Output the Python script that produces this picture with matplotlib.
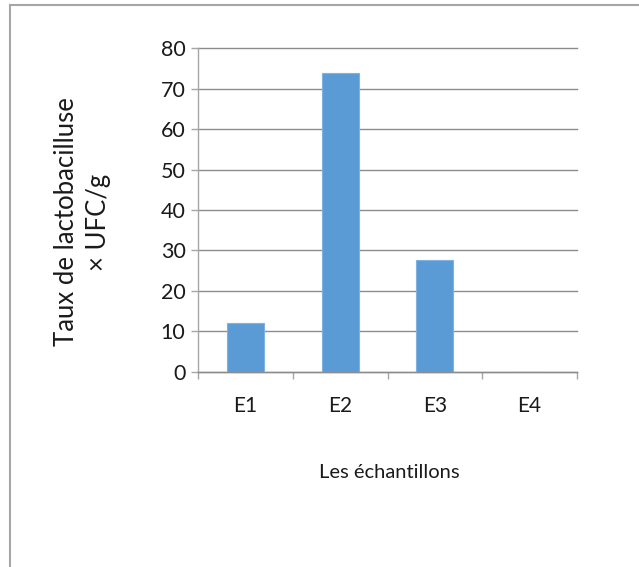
import matplotlib
matplotlib.use("Agg")
import matplotlib.pyplot as plt
from matplotlib.lines import Line2D

# chart data
categories = ["E1", "E2", "E3", "E4"]
values = [12, 74, 27.7, 0]
y_ticks = [0, 10, 20, 30, 40, 50, 60, 70, 80]

plt.rcParams['font.family'] = ['Lato', 'DejaVu Sans']

W, H = 639, 567
fig = plt.figure(figsize=(W / 100, H / 100), dpi=100)

# axes box in pixel coords (left, top, right, bottom)
l, t, r, b = 198, 48.5, 577, 371.5
ax = fig.add_axes([l / W, 1 - b / H, (r - l) / W, (b - t) / H])

x = range(len(categories))
ax.bar(x, values, width=0.39, color="#5b9bd5", edgecolor="#7fb2e0", linewidth=0.8, zorder=3)

ax.set_xlim(-0.5, len(categories) - 0.5)
ax.set_ylim(0, 80)
ax.set_yticks(y_ticks)
ax.set_yticklabels([str(v) for v in y_ticks], fontsize=15.5, color="#1a1a1a")
ax.set_xticks(list(x))
ax.set_xticklabels(categories, fontsize=15, color="#1a1a1a")

# category boundary ticks like excel
ax.set_xticks([i - 0.5 for i in range(len(categories) + 1)], minor=True)
ax.tick_params(axis="x", which="major", length=0, pad=18)
ax.tick_params(axis="x", which="minor", length=5, color="#a6a6a6", width=1)
ax.tick_params(axis="y", length=5, color="#a6a6a6", width=1, pad=4)

ax.yaxis.grid(True, color="#8c8c8c", linewidth=1)
for gl in ax.get_ygridlines():
    gl.set_clip_on(False)
ax.set_axisbelow(True)
for s in ["top", "right"]:
    ax.spines[s].set_visible(False)
ax.spines["left"].set_color("#a6a6a6")
ax.spines["bottom"].set_color("#8c8c8c")
ax.spines["left"].set_linewidth(1)
ax.spines["bottom"].set_linewidth(1)

fig.text(389 / W, 1 - 473 / H, "Les échantillons", fontsize=14.5, ha="center", va="center", color="#1a1a1a")
fig.text(83 / W, 1 - 222 / H, "Taux de lactobacilluse\n× UFC/g", fontsize=18.5,
         rotation=90, ha="center", va="center", color="#1a1a1a", linespacing=1.35)

# chart frame (only top and left visible)
fig.add_artist(Line2D([9.5 / W, 1], [1 - 4.5 / H, 1 - 4.5 / H], color="#a6a6a6", linewidth=1.5, transform=fig.transFigure))
fig.add_artist(Line2D([9.5 / W, 9.5 / W], [0, 1 - 4.5 / H], color="#a6a6a6", linewidth=1.5, transform=fig.transFigure))

fig.savefig("out.png", dpi=100, facecolor="white")
